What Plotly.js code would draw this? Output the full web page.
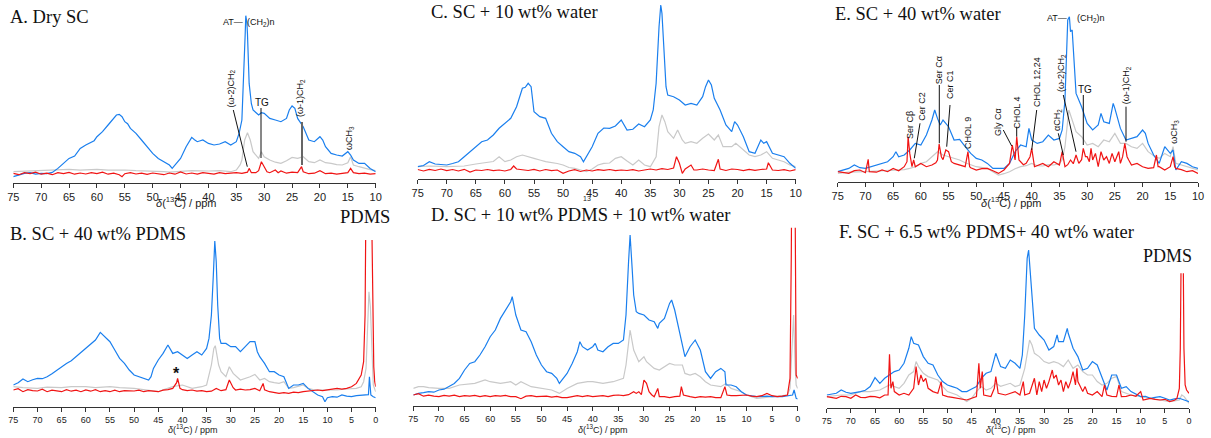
<!DOCTYPE html>
<html><head><meta charset="utf-8">
<script src="https://cdn.plot.ly/plotly-3.0.1.min.js"></script>
<style>html,body{margin:0;padding:0;background:#fff}#chart{width:1211px;height:438px}</style>
</head><body><div id="chart"></div>
<script>
// ---------- DATA: [ppm, intensity] ----------
const A_blue=[[75,6],[74,8],[73,9.3],[72,10],[71,8.5],[70,9.3],[69,9],[68,10.3],[67,14.3],[66,19.3],[65,24.3],[64,26.7],[63.5,31],[63,34.3],[62,37.7],[61,41],[60.5,42],[60,46],[59,51],[58,57.7],[57,64.3],[56.5,67.7],[56,68.3],[55.5,66],[55,61],[54.5,59],[54,54.3],[53,49.3],[52,42.7],[51,36],[50,29.3],[49,24.3],[48,21],[47,17.7],[46.5,14.3],[46,17.7],[45,24.3],[44,36],[43,45.3],[42.5,43],[42,41],[41,42.7],[40,39.3],[39,37.7],[38,38.7],[37,41],[36,37.7],[35,41],[34.5,49.3],[34,62.7],[33.7,99.3],[33.4,150],[33.3,167],[33.1,160],[33,149],[32.7,99.3],[32.3,79],[32,72.7],[31,67.7],[30.5,70],[30,69.3],[29,64.3],[28,62.7],[27,61],[26,64.3],[25.5,72.7],[25,76.7],[24.5,74.3],[24,64.3],[23,56],[22,42.7],[21,41],[20,46],[19.5,42.7],[19,36],[18,29.3],[17,27.7],[16,26.7],[15,31],[14.5,27.7],[14,22.7],[13,19.3],[12,19.3],[11,14.3],[10,11]];
const A_gray=[[75,11],[73,11.5],[71,12],[70,11.7],[68,12],[67,12.5],[65,13.3],[63,12.5],[61,13],[60,13.3],[58,12.5],[56,13],[55,12.7],[53,12],[50,11.7],[48,11],[47,10.5],[45,11],[43,12],[40,11.7],[38,12],[36,11],[35,12.7],[34.3,18],[34,22.7],[33.5,42.7],[33,50],[32.5,42.7],[32,31],[31,24.3],[30.5,31],[30,26],[29,22.7],[28,20.5],[27,19.3],[26,22],[25,25.3],[24,24.3],[23,26],[22,21],[21,20],[20,22.7],[19,20],[18,19.3],[17,18],[16,17.7],[15,20],[14.5,26],[14,17.7],[13,16],[12,14.3],[11,13],[10,12]];
const A_red=[[75,9.3],[74,8],[73,10],[72,9],[71,10.5],[70,8.5],[69,9.5],[68,8],[67,10],[66,9],[65,10.3],[64,8.5],[63,9.7],[62,8.7],[61,10],[60,9],[59,10.5],[58,8.5],[57,9.5],[56,8],[55.5,6],[55,9],[54,10],[53,8.7],[52,9.5],[51,8.3],[50,9.7],[49,9],[48,8],[47,9.7],[46,8.5],[45,10.7],[44,8.7],[43,9.7],[42,8.5],[41,10],[40,9],[39,8.5],[38,10],[37,9],[36,9.5],[35,10],[34,9.3],[33,10.5],[32.7,14.3],[32.3,10],[31.5,10],[31,12],[30.5,21],[30,16],[29.5,11],[29,10],[28,12.7],[27.5,10],[27,11.7],[26,9.5],[25,10.5],[24,10],[23.3,16],[23,11],[22,9],[21,9.5],[20,12],[19,9],[18,9.5],[17,8.5],[16,9.5],[15,10],[14.5,14.3],[14,10],[13,9],[12,9.5],[11,8.5],[10,9]];

const C_blue=[[75,12.3],[74,13.5],[73,17.3],[72,15],[71,14.5],[70,14],[69,15.5],[68,17.3],[67,22.3],[66,27.3],[65,32.3],[64,37.3],[63,39],[62,44],[61,50.7],[60,55.7],[59,60.7],[58,72.3],[57,90.7],[56.5,91.7],[56,95.7],[55.5,92.3],[55,67.3],[54,62.3],[53,60.7],[52,45.7],[51,37.3],[50,32.3],[49,27.3],[48,25.7],[47,22.3],[46.5,17.3],[46,22.3],[45,32.3],[44,45.7],[43,51],[42,50.7],[41,53],[40,59],[39,49],[38,49.7],[37,55],[36,52.3],[35,59],[34.5,69],[34,95.7],[33.5,152.3],[33.2,174],[33,165.7],[32.7,129],[32.3,92.3],[32,84],[31,82.3],[30,79],[29,74],[28,75.7],[27,74],[26,82.3],[25.5,92.3],[25,99],[24.5,94],[24,80.7],[23,69],[22,54],[21,47.3],[20.5,57.3],[20,54],[19,42.3],[18,27.3],[17,25.7],[16,39],[15.5,35.7],[15,37.3],[14,25.7],[13,24],[12,22.3],[11,15.7],[10,10.7]];
const C_gray=[[75,12.3],[73,13],[70,12.3],[68,13],[67,13],[65,15],[63,16.3],[62,17.5],[61,22.3],[60,17.3],[59,19],[58,22.3],[57,24],[56,22],[55,20.7],[54,19],[53,17.3],[51,15.5],[50,14],[49,11.5],[48,10.7],[47,9],[46,7.3],[45,10],[44,14],[43,15.7],[42,16],[41,20.7],[40,22.3],[39,18],[38,14],[37,19],[36,14],[35,12.3],[34,22.3],[33.5,52.3],[33,64],[32.5,57.3],[32,47.3],[31,40.7],[30.3,49],[29.5,39],[29,35.7],[28,37.3],[27,35.7],[26,40.7],[25,45],[24,39],[23.3,44],[22.5,32.3],[21,32.3],[20.3,35.7],[19,29],[18,24],[17,22.3],[16,24],[15,27.3],[14,20.7],[13,19],[12,17.3],[11,14],[10,12.3]];
const C_red=[[75,9.5],[74,8],[73,9.7],[72,8.5],[71,10],[70,8.3],[69,9.5],[68,8],[67,9.7],[66,7],[65,9],[64,8.5],[63,9.5],[62,8.3],[61,9],[60,8],[59,9.5],[58.5,13],[58,10],[57,9],[56,8.5],[55,9.7],[54,8],[53,9.5],[52,8.3],[51,9],[50,5.7],[49,8],[48,9.3],[47,7.5],[46,9],[45,8],[44,9.3],[43,8.7],[42,9.5],[41,8.3],[40,9],[39,8.5],[38,9.3],[37,8],[36,9.3],[35,10],[34,9],[33,10.3],[32,9.5],[31,11],[30.5,22.3],[30,15.7],[29.5,5.7],[29,10],[28,14],[27.5,9],[27,9],[26,10],[25,9],[24,8.5],[23.3,19.7],[23,10],[22,8.5],[21,10],[20,9.5],[19,8.3],[18,9.7],[17,8.7],[16,9.5],[15,10],[14.7,16.3],[14,9],[13,8.5],[12,9.3],[11,8],[10,9.3]];

const E_blue=[[75,10],[74,11.7],[73,13.3],[72,16.7],[71,14],[70,13.3],[69,15],[68,16.7],[67,18.3],[66,20],[65,25],[64.5,30],[64,25],[63,26.7],[62,31.7],[61,38.3],[60,36.7],[59,46.7],[58,61.7],[57.5,71.7],[57,63.3],[56.5,56.7],[56,61.7],[55,55],[54,41.7],[53,42.3],[52,35],[51,28.3],[50,23.3],[49,21.7],[48,18.3],[47,13.3],[46,13.3],[45,13.3],[44,18.3],[43,30],[42,36.7],[41,35],[40.5,53.3],[40,41.7],[39,38.3],[38,40],[37,46.7],[36,41.7],[35,43.3],[34.5,51.7],[34,81.7],[33.5,161.7],[33.2,165],[33,150],[32.7,151.7],[32.3,115],[32,88.3],[31,75],[30,58.3],[29,51.7],[28,56.7],[27.5,68.3],[27,60],[26,58.3],[25.3,78.3],[25,73.3],[24,53.3],[23,41.7],[22,43.3],[21,45],[20,51.7],[19.5,48.3],[19,38.3],[18,26.7],[17,18.3],[16,35],[15,28.3],[14.5,31.7],[14,11.7],[13,20],[12,18.3],[11,15],[10,13.3]];
const E_gray=[[75,8.3],[73,9.5],[70,10],[68,10.5],[65,11],[63,12],[62,13.3],[61,15],[60,18.3],[59,20],[58,25],[57,30],[56,26.7],[55,25],[54,23],[53,21.7],[52,19],[50,15],[48,13.3],[47,10],[46,6.7],[45,8],[44,10],[43,13],[42,15],[41,16],[40,18.3],[39,16],[38,15.7],[37,17],[36,16.7],[35,18.3],[34.5,22],[34,35],[33.5,60],[33.3,71.7],[33,66.7],[32.5,58.3],[32,50],[31,45],[30,36.7],[29,38.3],[28,35],[27,41.7],[26,40],[25,48.3],[24,38.3],[23,38.3],[22,35],[21,33.3],[20,38.3],[19,30],[18,26],[17,23.3],[16,28.3],[15,25],[14.5,35],[14,18.3],[13,16.5],[12,15],[11,13],[10,11.7]];
const E_red=[[75,10],[74,9],[73,8.3],[72,11],[71,11.7],[70,9],[69.5,22.3],[69.3,10],[68,9.5],[67,11.7],[66,10],[65,13.3],[64,11],[63,15],[62.5,20],[62.3,45],[62,28.3],[61.6,15],[61.3,21.7],[61,15],[60,18.3],[59,15],[58,16.7],[57.3,19],[57,21.7],[56.7,37.7],[56.3,25],[56,22],[55.7,30],[55.5,31.7],[55,30],[54.5,20],[54,18.3],[53,16.7],[52,15],[51.5,30],[51.2,15],[51,14],[50,11.7],[49,13],[48,13.3],[47,11],[46,8.3],[45,11.7],[44,18.3],[43.5,36.7],[43,21.7],[42.7,45],[42.3,21.7],[41.5,17],[41,18.3],[40.3,25],[40,33.3],[39.5,15],[39,16],[38,18.3],[37,15],[36,20],[35,16.7],[34.5,30],[34,15],[33.5,17],[33,21.7],[32.5,18],[32,26.7],[31.5,18.3],[31,22],[30.7,33.3],[30.3,25],[30,25],[29.6,20],[29.3,33.3],[29,21.7],[28.5,28.3],[28,15],[27.5,30],[27,21.7],[26.5,25],[26,18.3],[25.5,28.3],[25,20],[24.3,30],[24,18.3],[23.6,25],[23.2,38.3],[22.8,25],[22.5,21.7],[22,16.7],[21,18.3],[20,15],[19,13.3],[18,14],[17.5,26.7],[17.2,15],[17,15],[16,11.7],[15,15],[14.5,25],[14.2,15],[14,13.3],[13,12],[12,10],[11,11],[10,8.3]];

const B_blue=[[75,21.7],[74,24],[73,27.7],[72,25],[71,27],[70,28.3],[69,28],[68,30],[67,33],[66,36.7],[65,40],[64,43.3],[63,46],[62,50],[61,54],[60,58.3],[59,62],[58,66.7],[57,74.3],[56,70],[55,65],[54,56.7],[53,48.3],[52,43.3],[51,36.7],[50,31.7],[49,30],[48,28.3],[47,26.7],[46.5,30],[46,38.3],[45,46.7],[44,53.3],[43,61.7],[42,53.3],[41,55],[40,51.7],[39,48.3],[38,51.7],[37,55],[36,51.7],[35,58.3],[34.5,68.3],[34,91.7],[33.6,131.7],[33.3,165.7],[33,145],[32.7,101.7],[32.3,68.3],[32,63.3],[31,63.3],[30,60],[29,60],[28,55],[27,60],[26,65],[25,65],[24.5,55],[24,50],[23,43.3],[22,35],[21,35],[20,31.7],[19,30],[18,18.3],[17,21.7],[16,21.7],[15,23.3],[14,18.3],[13,15],[12,11.7],[11,10],[10.5,5],[10,9],[9,10],[8,9.5],[7,11.7],[6,10.5],[5,10],[4,11],[3,11.7],[2,12.3],[1.5,12],[1.3,30],[1.1,12],[1,11.7],[0.5,10],[0,9]];
const B_gray=[[75,20],[73,19],[70,18.3],[68,19.5],[65,19],[63,20],[60,20],[58,19],[55,20],[53,19],[50,18.3],[48,17],[46,15],[45,15],[44,17],[42,20],[40,21.7],[38,18.3],[36,20],[35,21.7],[34,41.7],[33.5,58.3],[33.2,61],[33,55],[32.5,41.7],[32,35],[31,30],[30.3,40],[29.5,33.3],[28,26.7],[27,28.3],[26,30],[25,32.3],[24,26.7],[23,28.3],[22,25],[21,24],[20,23.3],[19,25],[18,18.3],[17,19],[16,20],[15,21.7],[14,18.3],[13,17],[12,16.7],[10,16.7],[8,16.7],[6,17.7],[4,18.3],[3,20],[2.5,25],[2,38.3],[1.7,70],[1.4,115],[1.1,100],[0.8,65],[0.5,21.7],[0,15]];
const B_red=[[75,16.7],[74,18],[73,15],[72,17],[71,16],[70,15.7],[69,17.5],[68,15],[67,16.5],[66,15.5],[65,15],[64,17],[63,15.5],[62,16.5],[61,15],[60,16.7],[59,15.5],[58,17],[57,15],[56,16],[55,15],[54,16.5],[53,15],[52,16],[51,15.5],[50,15.7],[49,16.5],[48,15],[47,16],[46,15.5],[45,15],[44,16.5],[43,17],[42,18.3],[41.2,24],[41,28.3],[40.7,22],[40.5,18.3],[40,17],[39,16],[38,16.7],[37,15.5],[36,16],[35,15],[34,15.5],[33,18.3],[32,16],[31,17],[30.3,26.7],[30,23.3],[29.5,19],[29,16.7],[28,17.5],[27,16.7],[26,17],[25,18.3],[24,16],[23.3,23.3],[23,17],[22,15],[21,14],[20,13.3],[19,14],[18,13.3],[17,14.5],[16,14],[15,15],[14,15.5],[13,16],[12,16.7],[11,16],[10,16.7],[9,17],[8,18.3],[7,17.5],[6,18.3],[5,20],[4,23.3],[3,31.7],[2.5,45],[2.2,91.7],[2,200],[1.4,600],[0.85,200],[0.6,80],[0.4,40],[0.2,25],[0,20]];

const D_blue=[[75,10.7],[74,12.3],[73,13],[72,14],[71,13.5],[70,15.7],[69,16.5],[68,19],[67,22.3],[66,27.3],[65,35.7],[64,42.3],[63,44],[62,50.7],[61,59],[60,69],[59,75.7],[58,87.3],[57,95.7],[56,104],[55.7,109],[55.5,104],[55,90.7],[54,75.7],[53,74],[52,64],[51,50.7],[50,40.7],[49,34],[48,32.3],[47,27.3],[46.5,22.3],[46,25.7],[45,32.3],[44,42.3],[43,54],[42.5,64],[42,59],[41,55.7],[40,59],[39.5,62.3],[39,55.7],[38,54],[37,59],[36,62.3],[35,62.3],[34,65.7],[33.5,90.7],[33,144],[32.7,170.7],[32.3,137.3],[32,110.7],[31.5,94],[31,92.3],[30,90.7],[29,85.7],[28,84],[27.3,77.3],[27,82.3],[26,87.3],[25,102.3],[24.6,105.7],[24,95.7],[23,70.7],[22,49],[21,59],[20,65.7],[19,55.7],[18,34],[17,27.3],[16,34],[15,37.3],[14.2,34],[14,20.7],[13,20.7],[12,19],[11,14],[10,10.7],[8,9],[6,9.5],[5,9],[3,9],[1,10.7],[0.7,15.7],[0.3,7.3],[0,6.7]];
const D_gray=[[75,17.3],[74,19],[73,19],[72,18],[70,17.3],[68,17.3],[66,20.7],[63,22.3],[61,25.7],[60,24],[58,22.3],[56,24],[55,20.7],[54,24],[52,19],[50,17.3],[48,15.7],[46.5,12.3],[45,17.3],[43,22.3],[41,24],[40,24],[38,22.3],[36,24],[34,27.3],[33.5,40.7],[33,65.7],[32.7,75.7],[32.3,64],[32,55.7],[31,44],[30,49],[29.5,44],[28,37.3],[27,35.7],[26,39],[25,42.3],[24,40.7],[22.5,40.7],[22,32.3],[21,30.7],[20,32.3],[19,29],[18,24],[17,20.7],[15,19],[14,22.3],[13,17.3],[11,14],[10,10.7],[8,7.3],[5,9],[2,10.7],[1.5,17.3],[1.1,60],[0.8,90.7],[0.5,40],[0.3,20.7],[0,17.3]];
const D_red=[[75,10.7],[74,12],[73,9.5],[72,10.5],[71,9.5],[70,9],[69,10.3],[68,9.5],[67,10.5],[66,9],[65,10],[64,9.5],[63,10.3],[62,9],[61,10],[60,9],[59,10],[58,9.5],[57,10.3],[56,9],[55,9],[54,7],[53,9.5],[52,10],[51,9],[50,9],[49,9.5],[48,8.5],[47,9.3],[46,8],[45,8],[44,9],[43,10],[42,9],[41,10],[40,9],[39,9.5],[38,10],[37,9],[36,10.3],[35,10.7],[34,10],[33,11],[32,14],[31.5,12.3],[31,14],[30.5,11],[30,25.7],[29.5,22.3],[29,14],[28.5,11],[28,9],[27.3,17.3],[27,9],[26,9],[25,8],[24,9],[23,9.5],[22.7,19],[22.3,10.7],[21,9],[20,8],[19,9],[18,8.5],[17,9],[16,8],[15,8],[14.2,19],[13.8,10.7],[13,10],[12,10],[11,10.5],[10,10.7],[9,9.5],[8,9],[7,10],[6,12.3],[5,10],[4,9],[3,9.5],[2,10.7],[1.5,27.3],[1.25,150],[0.85,500],[0.5,150],[0.3,30.7],[0,27.3]];

const F_blue=[[75,13.3],[74,14],[73,15],[72,18.3],[71,16],[70,15],[69,15.5],[68,16.7],[67,18],[66,21.7],[65,30.7],[64,25],[63,30],[62,33.3],[61,36.7],[60,38.3],[59,45],[58,60],[57.5,71.7],[57,65],[56,63.3],[55,51.7],[54,45],[53,43.3],[52,33.3],[51,26.7],[50,23.3],[49,21.7],[48,20],[47,16.7],[46,16.7],[45,19.3],[44,21.7],[43,30],[42,35],[41,36.7],[40,55],[39,41.7],[38,40],[37,48.3],[36,45],[35,40],[34.5,53.3],[34,93.3],[33.5,150],[33.2,158.3],[33,146.7],[32.5,110],[32,80],[31,73.3],[30,68.3],[29,58.3],[28,61.7],[27.3,73.3],[27,66.7],[26,66.7],[25.2,80],[25,75],[24,60],[23,51.7],[22,38.3],[21,40],[20,46.7],[19,43.3],[18,30],[17,18.3],[16,33.3],[15,33.3],[14,20],[13,21.7],[12,16.7],[11,14],[10,11.7],[9,12],[8,10],[7,11],[6,11.7],[5,10],[4,8.3],[3,9.5],[2,10],[1,8.3],[0,6.7]];
const F_gray=[[75,11.7],[72,13.3],[70,13.3],[69,15],[68,16.7],[66,16.7],[64,18.3],[62,23.3],[61,21.7],[60,20],[59,25],[58,33.3],[57,36.7],[56.5,46.7],[56,41.7],[55,35],[54,31.7],[52,28.3],[51,22],[50,16.7],[48,13.3],[47,10],[46,6.7],[45,10],[44,16.7],[43,21.7],[42,18.3],[41,20],[40,25],[39,22],[38,23.3],[37,25],[36,21.7],[35,23.3],[34,40],[33.3,60],[33,68.3],[32.5,63.3],[32,55],[31,51.7],[30,46.7],[29,45],[28,46.7],[27,45],[26,41.7],[25,48.3],[24,40],[23,43.3],[22,36.7],[21,33.3],[20,33.3],[19,26.7],[18,23.3],[17,25],[16,30],[15,31.7],[14,16.7],[13,15],[12,13.3],[10,11.7],[8,10],[6,8.3],[4,6.7],[3,7.5],[2,8.3],[1.5,13.3],[1,11.7],[0,5]];
const F_red=[[75,11.7],[74,10.5],[73,10],[72,12],[71,11.7],[70,10],[69,13.3],[68,11],[67,10.7],[66,12],[65,11.7],[64,10.5],[63,13.3],[62.3,13.3],[62,54],[61.7,20],[61.3,26.7],[61,16.7],[60,13.3],[59,15],[58,13.3],[57,20],[56.5,41.7],[56,23.3],[55.5,33.3],[55,26.7],[54.5,30],[54,20],[53,16.7],[52,15],[51.3,26.7],[51,13.3],[50,11.7],[49,11],[48,10],[47,9.5],[46,8.3],[45,10],[44,11.7],[43.5,45],[43.2,20],[42.8,36.7],[42.5,13.3],[41,11.7],[40.3,20],[40,31.7],[39.5,15],[38,13.3],[37,15],[36,16.7],[35,13.3],[34.3,26.7],[34,13.3],[33,15],[32,30],[31.5,13.3],[31,26.7],[30.5,16.7],[30,28.3],[29.5,20],[29,26.7],[28.3,38.3],[28,30],[27.5,33.3],[27,23.3],[26.5,28.3],[26,16.7],[25.5,26.7],[25,20],[24.5,26.7],[24,36.7],[23.5,23.3],[23.2,40],[23,26.7],[22,16.7],[21.5,21.7],[21,15],[20,13.3],[19,16.7],[18,11.7],[17.5,23.3],[17,13.3],[16,12],[15,11.7],[14.5,23.3],[14,11.7],[13,12],[12,13.3],[11,12],[10,16.7],[9.5,8.3],[8,10],[7,9],[6,8.3],[5,9],[4,6.7],[3,8],[2.5,10],[2,20],[1.8,60],[1.66,135],[1.45,null],[1.17,135],[1.05,60],[0.8,23.3],[0.5,18.3],[0,15]];

// ---------- figure ----------
const W=1211,H=438;
const fx=p=>p/W, fy=p=>1-p/H;
const BLUE='#1a7fee', GRAY='#c9c9c9', RED='#f01414';
const panels=[
  {id:'',  blue:A_blue,gray:A_gray,red:A_red, xd:[13.3,375.7], yb:182.7, yt:14.7, r:[75,10], tf:11},
  {id:'2', blue:C_blue,gray:C_gray,red:C_red, xd:[417.7,795.7],yb:179,   yt:4,    r:[75,10], tf:11},
  {id:'3', blue:E_blue,gray:E_gray,red:E_red, xd:[837.7,1198], yb:181.7, yt:14.7, r:[75,10], tf:11},
  {id:'4', blue:B_blue,gray:B_gray,red:B_red, xd:[13.3,375.7], yb:406.7, yt:240,  r:[75,0],  tf:9},
  {id:'5', blue:D_blue,gray:D_gray,red:D_red, xd:[413.3,797.7],yb:405.7, yt:227.7,r:[75,0],  tf:9},
  {id:'6', blue:F_blue,gray:F_gray,red:F_red, xd:[826.7,1189], yb:408.3, yt:245,  r:[75,0],  tf:9}
];
const traces=[]; const layout={width:W,height:H,margin:{l:0,r:0,t:0,b:0},paper_bgcolor:'#fff',plot_bgcolor:'rgba(0,0,0,0)',showlegend:false,annotations:[],shapes:[]};
panels.forEach(p=>{
  [[p.gray,GRAY],[p.blue,BLUE],[p.red,RED]].forEach(([d,c])=>{
    traces.push({type:'scatter',mode:'lines',x:d.map(v=>v[0]),y:d.map(v=>v[1]),xaxis:'x'+p.id,yaxis:'y'+p.id,
      line:{color:c,width:1.2},connectgaps:false,hoverinfo:'skip'});
  });
  layout['xaxis'+p.id]={domain:[fx(p.xd[0]),fx(p.xd[1])],range:p.r,anchor:'y'+p.id,showline:true,linecolor:'#333',linewidth:1,
    ticks:'outside',ticklen:4,tickwidth:1,tickcolor:'#333',tick0:0,dtick:5,showgrid:false,zeroline:false,fixedrange:true,
    tickfont:{family:'Liberation Sans, Arial, sans-serif',size:p.tf,color:'#222'}};
  layout['yaxis'+p.id]={domain:[fy(p.yb),fy(p.yt)],range:[0,p.yb-p.yt],anchor:'x'+p.id,visible:false,fixedrange:true};
});
const SERIF='Liberation Serif, Times New Roman, serif', SANS='Liberation Sans, Arial, sans-serif';
function txt(t,x,y,o={}){layout.annotations.push(Object.assign({text:t,xref:'paper',yref:'paper',x:fx(x),y:fy(y),showarrow:false,
  xanchor:'center',yanchor:'middle',font:{family:SANS,size:9,color:'#111'}},o));}
function ln(x0,y0,x1,y1,c='#111',w=1){layout.shapes.push({type:'line',xref:'paper',yref:'paper',x0:fx(x0),y0:fy(y0),x1:fx(x1),y1:fy(y1),line:{color:c,width:w}});}
const T={family:SERIF,size:18.5,color:'#111'};
txt('A. Dry SC',8,17,{xanchor:'left',font:T});
txt('C. SC + 10 wt% water',429,12,{xanchor:'left',font:T});
txt('E. SC + 40 wt% water',833,14,{xanchor:'left',font:T});
txt('B. SC + 40 wt% PDMS',8,234.5,{xanchor:'left',font:T});
txt('D. SC + 10 wt% PDMS + 10 wt% water',429,214.5,{xanchor:'left',font:T});
txt('F. SC + 6.5 wt% PDMS+ 40 wt% water',837,231.5,{xanchor:'left',font:T});
txt('PDMS',365,217,{font:T});
txt('PDMS',1167,256,{font:{family:SERIF,size:18,color:'#111'}});
// axis titles
const AX='<i>δ</i>(<sup>13</sup>C) / ppm';
txt(AX,187,202,{font:{family:SANS,size:11,color:'#222'}});
txt(AX,1011.5,202,{font:{family:SANS,size:11,color:'#222'}});
txt('13',587,198,{font:{family:SANS,size:7,color:'#222'}});
txt(AX,192.5,429,{font:{family:SANS,size:9,color:'#222'}});
txt(AX,603,429,{font:{family:SANS,size:9,color:'#222'}});
txt(AX,1011,429,{font:{family:SANS,size:9,color:'#222'}});
txt('<b>*</b>',176.7,373,{font:{family:SANS,size:16,color:'#111'}});
// Panel A labels
const R={textangle:-90};
txt('AT—',233,22); txt('(CH<sub>2</sub>)n',261,22);
txt('(ω-2)CH<sub>2</sub>',231.5,89,R); ln(233.3,110,247.3,166.7);
txt('TG',261.5,102,{font:{family:SANS,size:10,color:'#111'}}); ln(261,108,261,158);
txt('(ω-1)CH<sub>2</sub>',301,98,R); ln(302,122,302,165,'#666',2);
txt('ωCH<sub>3</sub>',350,138,R);
// Panel E labels
txt('AT—',1056.7,18.5); txt('(CH<sub>2</sub>)n',1091,18.5);
txt('Ser Cβ',910,125,R);
txt('Cer C2',921.7,106,R); ln(920,123.3,914.3,158.3);
txt('Ser Cα',939.3,70,R); ln(939.3,85,939.3,143.3);
txt('Cer C1',950,85,R); ln(950,105,946.7,146.7);
txt('CHOL 9',968,133,R);
txt('Gly Cα',998,122,R); ln(1003.3,130,1011.7,146);
txt('CHOL 4',1016.7,113,R); ln(1016.7,126.7,1016.7,136.7);
txt('CHOL 12,24',1037,82,R); ln(1036.7,110,1031.7,150);
txt('αCH<sub>2</sub>',1057,120,R); ln(1058.3,133.3,1063.3,155);
txt('(ω-2)CH<sub>2</sub>',1062,73,R); ln(1063.3,95,1076,151.7);
txt('TG',1085,90,{font:{family:SANS,size:10,color:'#111'}}); ln(1083.3,95,1083.3,145);
txt('(ω-1)CH<sub>2</sub>',1127.3,85,R); ln(1126,106.7,1126,141.7);
txt('ωCH<sub>3</sub>',1175,131.7,R);
Plotly.newPlot('chart',traces,layout,{staticPlot:true,displayModeBar:false});
</script></body></html>
